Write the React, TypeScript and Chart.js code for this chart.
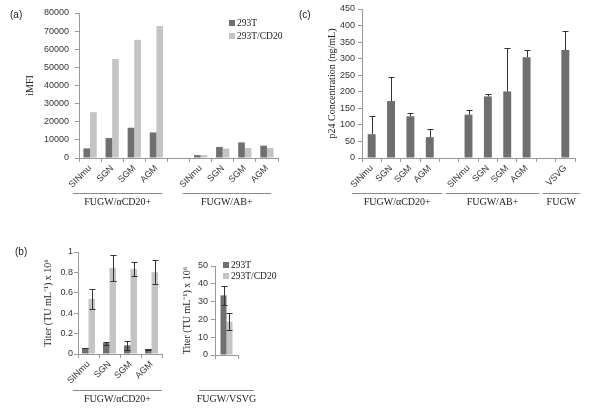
import React, { useEffect, useRef } from 'react';
import { Chart, registerables } from 'chart.js';
Chart.register(...registerables);

// ---------- data ----------
// Panel (a)
const catsA = ['SINmu', 'SGN', 'SGM', 'AGM', '', 'SINmu', 'SGN', 'SGM', 'AGM'];
const iMFI293T = [5300, 11000, 16700, 14100, null, 1600, 6100, 8600, 6800];
const iMFICD20 = [25300, 54600, 65200, 72800, null, 1600, 5200, 5500, 5500];
// Panel (b) left
const catsB = ['SINmu', 'SGN', 'SGM', 'AGM'];
const titer293T = [0.058, 0.107, 0.085, 0.047];
const titer293TErr = [0.004, 0.015, 0.042, 0.004];
const titerCD20 = [0.54, 0.845, 0.834, 0.802];
const titerCD20Err = [0.097, 0.125, 0.07, 0.118];
// Panel (b) right
const catsB2 = [''];
const vsvg293T = [33.5];
const vsvg293TErr = [5.2];
const vsvgCD20 = [18.7];
const vsvgCD20Err = [4.7];
// Panel (c)
const catsC = ['SINmu', 'SGN', 'SGM', 'AGM', '', 'SINmu', 'SGN', 'SGM', 'AGM', '', 'VSVG'];
const p24 = [72, 172, 126, 63, null, 131, 186, 201, 304, null, 326];
const p24Err = [54, 72, 11, 24, null, 15, 7, 131, 22, null, 57];

const seriesNames = ['293T', '293T/CD20'];

// ---------- styles ----------
const DARK = '#6f6f6f';
const LIGHT = '#c4c4c4';
const AXIS = '#9a9a9a';
const SANS = '"Liberation Sans", Arial, sans-serif';
const SERIF = '"Liberation Serif", "Times New Roman", serif';

type Group = { label: string; first: number; last: number; l: number; r: number };
type DecorOpts = {
  panel?: { text: string; x: number; y: number };
  groups?: Group[];
  lineY?: number;
  labelY?: number;
  legend?: { x: number; y: number; gap: number };
  errors?: { sets: (number | null)[][]; both: boolean };
};

function makeDecor(o: DecorOpts) {
  return {
    id: 'decor',
    afterDatasetsDraw(chart: any) {
      if (!o.errors) return;
      const ctx = chart.ctx;
      const ys = chart.scales.y;
      ctx.save();
      ctx.strokeStyle = '#333';
      ctx.lineWidth = 1;
      o.errors.sets.forEach((errs, di) => {
        if (!errs) return;
        const meta = chart.getDatasetMeta(di);
        const data = chart.data.datasets[di].data;
        meta.data.forEach((el: any, j: number) => {
          const v = data[j];
          const e = errs[j];
          if (v == null || e == null) return;
          const x = Math.round(el.x) + 0.5;
          const yt = Math.round(ys.getPixelForValue(v + e)) + 0.5;
          const yb = o.errors!.both ? Math.round(ys.getPixelForValue(v - e)) + 0.5 : el.y;
          ctx.beginPath();
          ctx.moveTo(x, yt);
          ctx.lineTo(x, yb);
          ctx.moveTo(x - 3, yt);
          ctx.lineTo(x + 3, yt);
          if (o.errors!.both) {
            ctx.moveTo(x - 3, yb);
            ctx.lineTo(x + 3, yb);
          }
          ctx.stroke();
        });
      });
      ctx.restore();
    },
    afterDraw(chart: any) {
      const ctx = chart.ctx;
      const xs = chart.scales.x;
      ctx.save();
      if (o.panel) {
        ctx.font = `10px ${SANS}`;
        ctx.fillStyle = '#222';
        ctx.textAlign = 'left';
        ctx.textBaseline = 'middle';
        ctx.fillText(o.panel.text, o.panel.x, o.panel.y);
      }
      if (o.groups) {
        const n = chart.data.labels.length;
        const cw = (xs.right - xs.left) / n;
        o.groups.forEach((g) => {
          const x0 = xs.getPixelForValue(g.first) - cw / 2 + g.l;
          const x1 = xs.getPixelForValue(g.last) + cw / 2 + g.r;
          ctx.strokeStyle = '#8c8c8c';
          ctx.lineWidth = 1;
          ctx.beginPath();
          ctx.moveTo(x0, o.lineY! + 0.5);
          ctx.lineTo(x1, o.lineY! + 0.5);
          ctx.stroke();
          ctx.font = `10px ${SERIF}`;
          ctx.fillStyle = '#222';
          ctx.textAlign = 'center';
          ctx.textBaseline = 'middle';
          ctx.fillText(g.label, (x0 + x1) / 2, o.labelY!);
        });
      }
      if (o.legend) {
        chart.data.datasets.forEach((ds: any, i: number) => {
          const y = o.legend!.y + i * o.legend!.gap;
          ctx.fillStyle = ds.backgroundColor;
          ctx.fillRect(o.legend!.x, y - 3, 6, 6);
          ctx.font = `9.5px ${SERIF}`;
          ctx.fillStyle = '#222';
          ctx.textAlign = 'left';
          ctx.textBaseline = 'middle';
          ctx.fillText(ds.label, o.legend!.x + 8, y);
        });
      }
      ctx.restore();
    },
  };
}

type Geo = { W: number; T: number; R: number; H: number };

function makeConfig(
  labels: string[],
  datasets: any[],
  geo: Geo,
  y: { max: number; step: number; fmt: (v: number) => string; title: string; titlePad: number; tickPad: number },
  catPct: number,
  decor: DecorOpts
): any {
  return {
    type: 'bar',
    data: { labels, datasets },
    options: {
      responsive: false,
      animation: false,
      devicePixelRatio: 1,
      layout: { padding: { left: 0, top: geo.T, right: geo.R, bottom: 0 } },
      datasets: { bar: { categoryPercentage: catPct, barPercentage: 1 } },
      plugins: { legend: { display: false }, tooltip: { enabled: false } },
      scales: {
        x: {
          type: 'category',
          grid: { display: true, offset: true, drawOnChartArea: false, drawTicks: true, tickLength: 4, color: AXIS },
          border: { display: true, color: AXIS },
          ticks: {
            autoSkip: false,
            minRotation: 45,
            maxRotation: 45,
            padding: 1,
            color: '#333',
            font: { family: SANS, size: 9 },
          },
          afterFit: (s: any) => {
            s.height = geo.H;
          },
        },
        y: {
          min: 0,
          max: y.max,
          grid: { display: true, drawOnChartArea: false, drawTicks: true, tickLength: 4, color: AXIS },
          border: { display: true, color: AXIS },
          ticks: {
            stepSize: y.step,
            padding: y.tickPad,
            color: '#333',
            font: { family: SANS, size: 9 },
            callback: (v: number) => y.fmt(v),
          },
          title: {
            display: true,
            text: y.title,
            color: '#222',
            font: { family: SERIF, size: 10 },
            padding: { top: y.titlePad, bottom: 0 },
          },
          afterFit: (s: any) => {
            s.width = geo.W;
          },
        },
      },
    },
    plugins: [makeDecor(decor)],
  };
}

function ChartBox(props: { left: number; top: number; width: number; height: number; make: () => any }) {
  const ref = useRef<HTMLCanvasElement>(null);
  useEffect(() => {
    const chart = new Chart(ref.current as HTMLCanvasElement, props.make());
    return () => chart.destroy();
  }, []);
  return (
    <canvas
      ref={ref}
      width={props.width}
      height={props.height}
      style={{ position: 'absolute', left: props.left, top: props.top, width: props.width, height: props.height }}
    />
  );
}

const intFmt = (v: number) => String(Math.round(v));
const decFmt = (v: number) => String(Math.round(v * 10) / 10);

export default function App() {
  const makeA = () =>
    makeConfig(
      catsA,
      [
        { label: seriesNames[0], data: iMFI293T, backgroundColor: DARK },
        { label: seriesNames[1], data: iMFICD20, backgroundColor: LIGHT },
      ],
      { W: 79, T: 13, R: 22, H: 52 },
      { max: 80000, step: 10000, fmt: intFmt, title: 'iMFI', titlePad: 24, tickPad: 6 },
      0.6,
      {
        panel: { text: '(a)', x: 10, y: 15 },
        groups: [
          { label: 'FUGW/αCD20+', first: 0, last: 3, l: -6, r: -5 },
          { label: 'FUGW/AB+', first: 5, last: 8, l: -7, r: -7 },
        ],
        lineY: 193,
        labelY: 202,
        legend: { x: 229, y: 23, gap: 13 },
      }
    );
  const makeC = () =>
    makeConfig(
      catsC,
      [{ label: 'p24', data: p24, backgroundColor: DARK }],
      { W: 66, T: 9, R: 25, H: 52 },
      { max: 450, step: 50, fmt: intFmt, title: 'p24 Concentration (ng/mL)', titlePad: 30, tickPad: 3 },
      0.41,
      {
        panel: { text: '(c)', x: 3, y: 15 },
        groups: [
          { label: 'FUGW/αCD20+', first: 0, last: 3, l: -10, r: 3 },
          { label: 'FUGW/AB+', first: 5, last: 8, l: -13, r: 3 },
          { label: 'FUGW', first: 10, last: 10, l: -13, r: 5 },
        ],
        lineY: 193,
        labelY: 202,
        errors: { sets: [p24Err], both: false },
      }
    );
  const makeB1 = () =>
    makeConfig(
      catsB,
      [
        { label: seriesNames[0], data: titer293T, backgroundColor: DARK },
        { label: seriesNames[1], data: titerCD20, backgroundColor: LIGHT },
      ],
      { W: 78, T: 42, R: 8, H: 62 },
      { max: 1, step: 0.1, fmt: decFmt, title: 'Titer (TU mL⁻¹) x 10⁶', titlePad: 42, tickPad: 1 },
      0.62,
      {
        panel: { text: '(b)', x: 15, y: 42 },
        groups: [{ label: 'FUGW/αCD20+', first: 0, last: 3, l: -5, r: 0 }],
        lineY: 180,
        labelY: 189,
        errors: { sets: [titer293TErr, titerCD20Err], both: true },
      }
    );
  const makeB2 = () =>
    makeConfig(
      catsB2,
      [
        { label: seriesNames[0], data: vsvg293T, backgroundColor: DARK },
        { label: seriesNames[1], data: vsvgCD20, backgroundColor: LIGHT },
      ],
      { W: 45, T: 56, R: 62, H: 61 },
      { max: 50, step: 10, fmt: intFmt, title: 'Titer (TU mL⁻¹) x 10⁶', titlePad: 11, tickPad: 3 },
      0.52,
      {
        groups: [{ label: 'FUGW/VSVG', first: 0, last: 0, l: -16, r: 16 }],
        lineY: 180,
        labelY: 189,
        legend: { x: 53, y: 55, gap: 11 },
        errors: { sets: [vsvg293TErr, vsvgCD20Err], both: true },
      }
    );
  return (
    <div style={{ position: 'absolute', left: 0, top: 0, width: 600, height: 416, background: '#fff' }}>
      <ChartBox left={0} top={0} width={300} height={210} make={makeA} />
      <ChartBox left={296} top={0} width={304} height={210} make={makeC} />
      <ChartBox left={0} top={210} width={170} height={206} make={makeB1} />
      <ChartBox left={170} top={210} width={130} height={206} make={makeB2} />
    </div>
  );
}
